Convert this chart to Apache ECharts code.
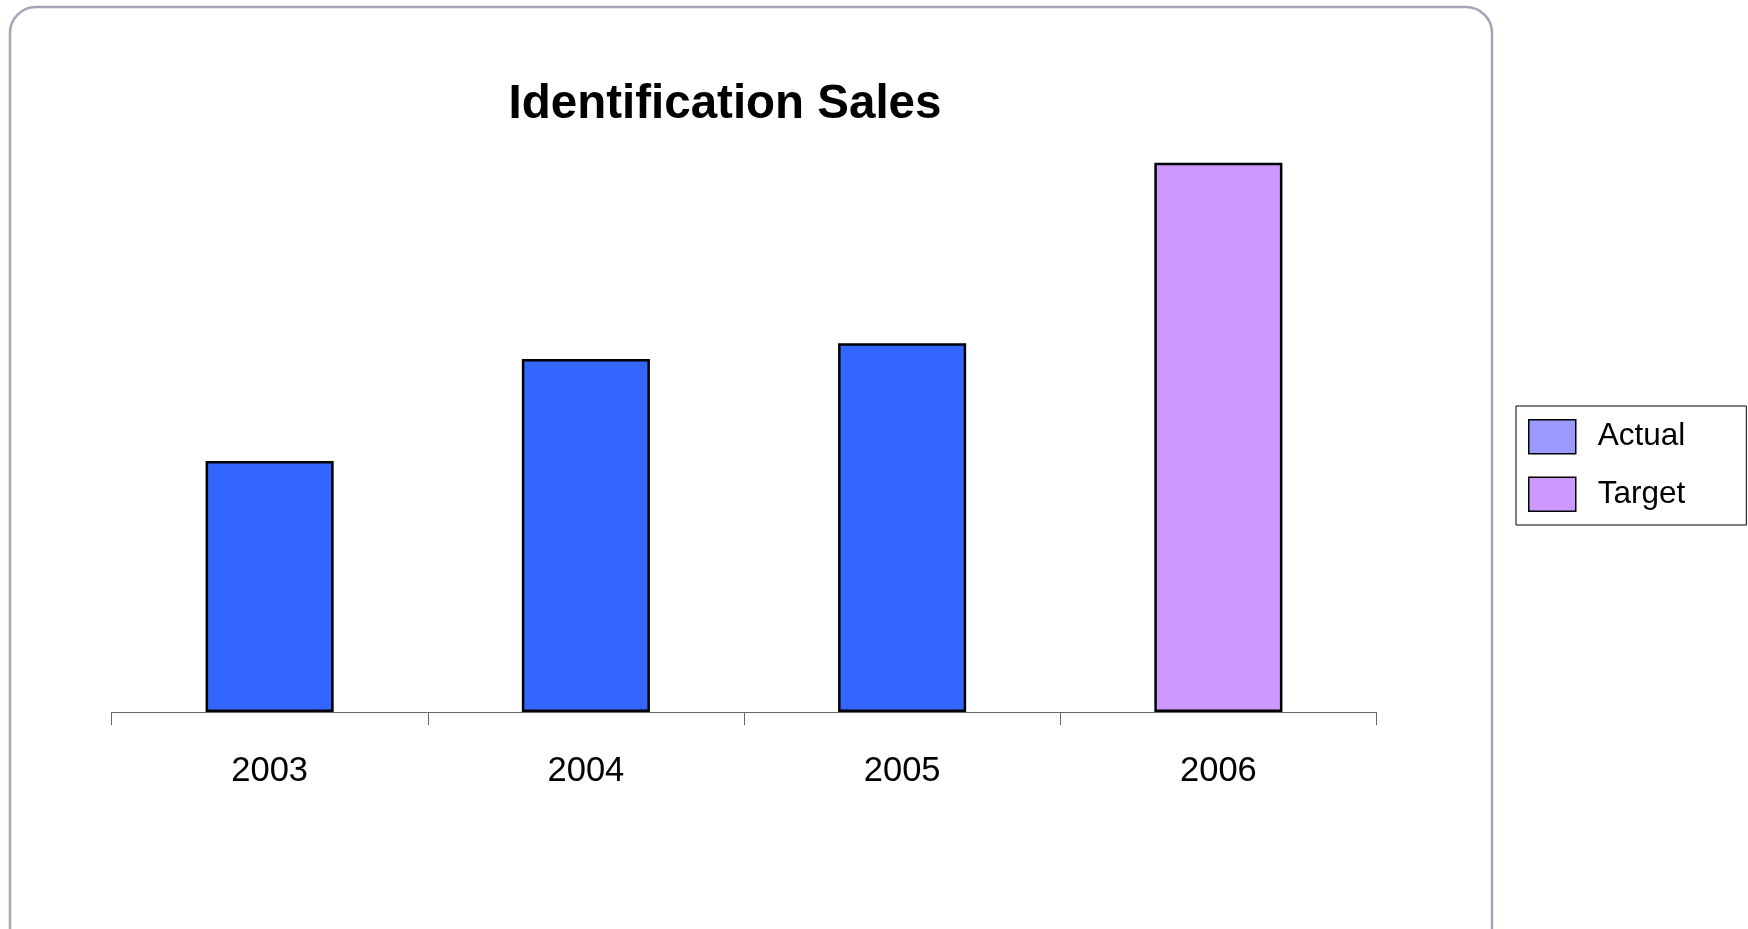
<!DOCTYPE html>
<html>
<head>
<meta charset="utf-8">
<script src="https://cdn.jsdelivr.net/npm/echarts@6/dist/echarts.min.js"></script>
<style>
html,body{margin:0;padding:0;background:#fff;}
#chart{width:1748px;height:929px;}
</style>
</head>
<body>
<div id="chart"></div>
<script>
const categories = ['2003', '2004', '2005', '2006'];
const actualValues = [1.6, 2.25, 2.35, '-'];
const targetValues = ['-', '-', '-', 3.5];
const seriesNames = ['Actual', 'Target'];
const titleText = 'Identification Sales';

const chart = echarts.init(document.getElementById('chart'));
const font = 'Liberation Sans, Arial, sans-serif';
chart.setOption({
  backgroundColor: '#ffffff',
  animation: false,
  title: {
    text: titleText,
    left: 725,
    textAlign: 'center',
    top: 81,
    padding: 0,
    textStyle: { fontFamily: font, fontSize: 47.5, fontWeight: 'bold', color: '#000' }
  },
  graphic: [{
    type: 'rect',
    shape: { x: 10, y: 7, width: 1482, height: 960, r: 26 },
    style: { fill: 'none', stroke: '#A3A6BA', lineWidth: 2.5 },
    z: -1
  }],
  legend: {
    data: [
      { name: seriesNames[0], itemStyle: { color: '#9999FF' } },
      { name: seriesNames[1], itemStyle: { color: '#CC99FF' } }
    ],
    orient: 'vertical',
    left: 1516,
    top: 406,
    padding: [13, 61, 13, 12],
    itemWidth: 47,
    itemHeight: 34,
    itemGap: 22,
    backgroundColor: '#fff',
    borderColor: '#000',
    borderWidth: 1,
    borderRadius: 0,
    icon: 'rect',
    itemStyle: { borderColor: '#000', borderWidth: 1.5 },
    textStyle: { fontFamily: font, fontSize: 31.5, color: '#000', padding: [0, 0, 0, 17] }
  },
  grid: { left: 111.5, width: 1265, top: 84.4, height: 627.6, containLabel: false },
  xAxis: {
    type: 'category',
    data: categories,
    boundaryGap: true,
    axisLine: { lineStyle: { color: '#666666', width: 1 } },
    axisTick: { show: true, length: 13, lineStyle: { color: '#666666', width: 1 } },
    axisLabel: { fontFamily: font, fontSize: 34.5, color: '#000', margin: 42 },
    splitLine: { show: false }
  },
  yAxis: {
    type: 'value', min: 0, max: 4, show: false,
    splitLine: { show: false }
  },
  series: [
    {
      name: seriesNames[0], type: 'bar', stack: 'a', data: actualValues, barWidth: '40.5%',
      itemStyle: { color: '#3366FF', borderColor: '#000', borderWidth: 2.5 }
    },
    {
      name: seriesNames[1], type: 'bar', stack: 'a', data: targetValues, barWidth: '40.5%',
      itemStyle: { color: '#CC99FF', borderColor: '#000', borderWidth: 2.5 }
    }
  ]
});
</script>
</body>
</html>
